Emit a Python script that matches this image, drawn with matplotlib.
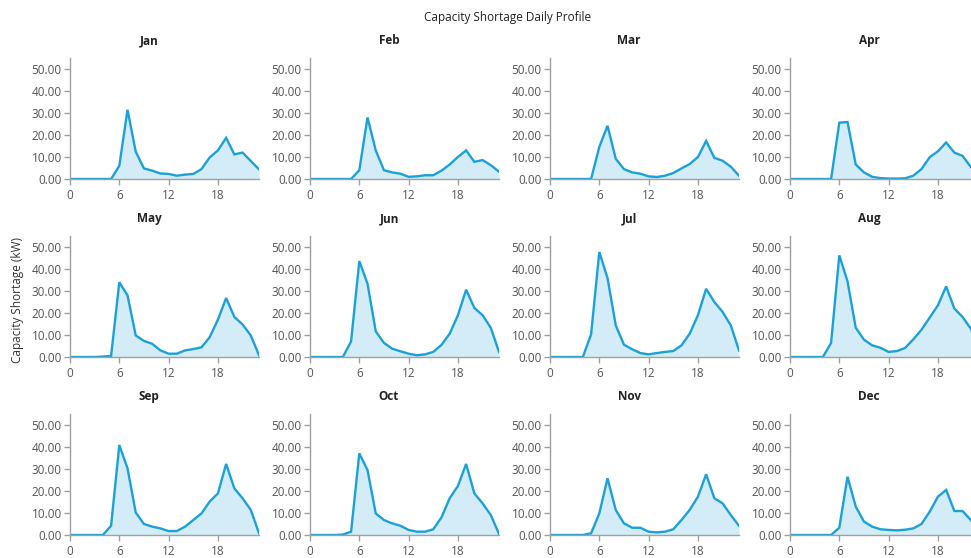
import matplotlib
matplotlib.use("Agg")
import matplotlib.pyplot as plt
import numpy as np

plt.rcParams['font.family'] = ['Open Sans', 'DejaVu Sans']

hours = list(range(24))
months = ["Jan", "Feb", "Mar", "Apr", "May", "Jun",
          "Jul", "Aug", "Sep", "Oct", "Nov", "Dec"]

jan = [0, 0, 0, 0, 0, 0, 6.0, 31.5, 12.4, 4.8, 3.8, 2.5, 2.3, 1.5, 2.0, 2.3, 4.5, 9.8, 13.0, 18.7, 11.2, 12.0, 8.2, 4.4]
feb = [0, 0, 0, 0, 0, 0, 4.0, 28.0, 13.0, 4.0, 3.0, 2.4, 1.0, 1.2, 1.7, 1.7, 3.8, 6.6, 10.0, 13.0, 7.8, 8.6, 6.3, 3.3]
mar = [0, 0, 0, 0, 0, 0, 14.6, 24.2, 9.2, 4.5, 3.0, 2.4, 1.2, 0.9, 1.5, 2.7, 4.8, 6.8, 10.0, 17.3, 9.6, 8.3, 5.6, 1.5]
apr = [0, 0, 0, 0, 0, 0, 25.6, 25.9, 6.6, 3.0, 1.0, 0.4, 0.2, 0.2, 0.3, 1.5, 4.5, 9.9, 12.6, 16.6, 12.0, 10.5, 5.5, 2.0]
may = [0, 0, 0, 0, 0.2, 0.5, 34.0, 28.0, 9.8, 7.3, 6.0, 3.0, 1.5, 1.5, 3.0, 3.6, 4.4, 9.0, 17.0, 26.8, 18.2, 14.8, 9.8, 0.8]
jun = [0, 0, 0, 0, 0, 7.1, 43.6, 33.3, 11.7, 6.4, 3.8, 2.6, 1.5, 0.8, 1.2, 2.3, 5.5, 10.6, 19.0, 30.6, 22.3, 19.0, 13.3, 2.3]
jul = [0, 0, 0, 0, 0, 10.3, 47.7, 35.9, 14.4, 5.6, 3.5, 1.8, 1.2, 1.8, 2.3, 2.7, 5.3, 10.6, 19.0, 31.0, 25.0, 20.5, 14.4, 3.0]
aug = [0, 0, 0, 0, 0, 6.4, 46.2, 34.4, 13.3, 7.9, 5.3, 4.2, 2.3, 2.7, 4.1, 8.0, 12.4, 17.9, 23.5, 32.1, 22.0, 18.2, 12.9, 3.0]
sep = [0, 0, 0, 0, 0, 4.2, 40.9, 30.3, 10.2, 5.0, 3.8, 3.0, 1.8, 1.8, 3.8, 6.8, 9.8, 15.2, 18.9, 32.3, 21.2, 16.7, 11.4, 0.8]
oct_ = [0, 0, 0, 0, 0.2, 1.5, 37.1, 29.5, 9.8, 6.8, 5.3, 4.2, 2.3, 1.5, 1.5, 2.6, 8.0, 16.7, 22.3, 32.3, 18.9, 14.4, 9.1, 0.5]
nov = [0, 0, 0, 0, 0, 0.8, 9.8, 25.8, 11.4, 5.3, 3.3, 3.3, 1.5, 1.2, 1.5, 2.6, 6.8, 11.4, 17.4, 27.6, 16.7, 14.4, 9.1, 4.2]
dec = [0, 0, 0, 0, 0, 0, 3.3, 26.5, 12.9, 6.1, 3.8, 2.6, 2.3, 2.1, 2.4, 3.0, 5.0, 10.6, 17.4, 20.5, 10.9, 10.9, 6.8, 2.0]

series = [jan, feb, mar, apr, may, jun, jul, aug, sep, oct_, nov, dec]

xticks = [0, 6, 12, 18]
yticks = [0, 10, 20, 30, 40, 50]

W, H = 971, 558
fig = plt.figure(figsize=(W / 100, H / 100), dpi=100)

line_c = "#1ba1d8"
fill_c = "#d3ecf7"
spine_c = "#a0a0a0"
text_c = "#555555"

col_left = [70, 310, 550, 790]
row_base = [179, 357, 535]
ax_w = 189
ax_h = 121

for i, (name, vals) in enumerate(zip(months, series)):
    r, c = divmod(i, 4)
    left = col_left[c] / W
    bottom = 1 - row_base[r] / H
    ax = fig.add_axes([left, bottom, ax_w / W, ax_h / H])
    ax.fill_between(hours, vals, 0, color=fill_c, lw=0)
    ax.plot(hours, vals, color=line_c, lw=1.7, solid_joinstyle='miter')
    ax.set_xlim(0, 23)
    ax.set_ylim(0, 55)
    ax.set_xticks(xticks)
    ax.set_yticks(yticks)
    ax.set_yticklabels([f"{v:.2f}" for v in yticks])
    for s in ("top", "right"):
        ax.spines[s].set_visible(False)
    for s in ("left", "bottom"):
        ax.spines[s].set_color(spine_c)
        ax.spines[s].set_linewidth(1.0)
    ax.tick_params(axis='both', colors=spine_c, labelcolor=text_c,
                   labelsize=8.5, length=4, width=1.0, direction='out')
    ax.tick_params(axis='x', pad=3)
    ax.tick_params(axis='y', pad=2)
    ax.set_title(name, x=0.418, y=1.0, pad=10, fontsize=8.5,
                 fontweight='bold', color="#222222")

fig.text(508 / W, 1 - 18 / H, "Capacity Shortage Daily Profile",
         ha='center', va='center', fontsize=8.5, color="#222222")
fig.text(18 / W, 1 - 300 / H, "Capacity Shortage (kW)", rotation=90,
         ha='center', va='center', fontsize=8.5, color="#333333")

fig.savefig("out.png", dpi=100)
